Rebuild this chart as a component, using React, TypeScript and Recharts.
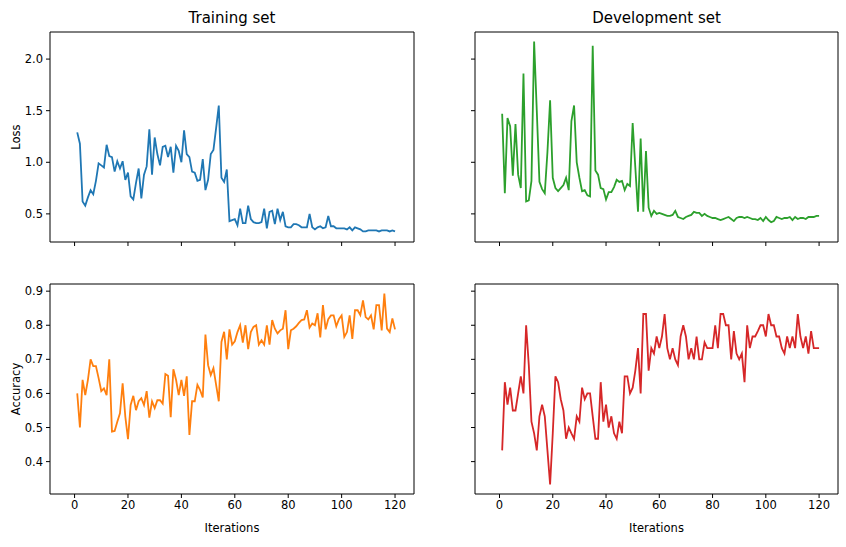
import React from 'react';
import { LineChart, Line, XAxis, YAxis, ReferenceLine } from 'recharts';

const iterations = Array.from({ length: 120 }, (_, i) => i + 1);

const trainLoss = [
  1.29, 1.18, 0.62, 0.58, 0.66, 0.73, 0.69, 0.82, 0.99, 0.97,
  0.95, 1.17, 1.06, 1.05, 0.91, 1.01, 0.94, 1.01, 0.83, 0.9,
  0.67, 0.64, 0.8, 0.94, 0.65, 0.88, 0.96, 1.32, 0.88, 1.24,
  1.08, 0.97, 1.15, 1.16, 1.05, 1.15, 0.9, 1.16, 1.11, 1.0,
  1.31, 1.08, 1.05, 0.91, 0.9, 0.82, 0.83, 1.03, 0.73, 0.83,
  1.08, 1.12, 1.33, 1.55, 0.85, 0.81, 0.93, 0.43, 0.44, 0.45,
  0.39, 0.55, 0.41, 0.41, 0.58, 0.45, 0.42, 0.41, 0.41, 0.42,
  0.55, 0.36, 0.52, 0.53, 0.4, 0.55, 0.44, 0.52, 0.38, 0.37,
  0.37, 0.4, 0.4, 0.39, 0.37, 0.37, 0.37, 0.5, 0.37, 0.35,
  0.37, 0.38, 0.36, 0.37, 0.48, 0.38, 0.38, 0.36, 0.36, 0.36,
  0.36, 0.35, 0.37, 0.34, 0.37, 0.36, 0.35, 0.33, 0.33, 0.34,
  0.34, 0.34, 0.34, 0.33, 0.34, 0.34, 0.34, 0.33, 0.34, 0.33,
];

const devLoss = [
  1.47, 0.7, 1.43, 1.35, 0.87, 1.37, 0.88, 0.75, 1.86, 0.62,
  0.63, 0.82, 2.17, 1.5, 0.81, 0.74, 0.7, 1.1, 1.6, 0.85,
  0.75, 0.72, 0.75, 0.78, 0.85, 0.73, 1.4, 1.55, 1.0, 0.85,
  0.72, 0.73, 0.68, 0.67, 2.13, 0.92, 0.88, 0.75, 0.74, 0.64,
  0.71, 0.71, 0.76, 0.83, 0.81, 0.82, 0.73, 0.79, 0.77, 1.38,
  0.95, 0.52, 1.23, 0.52, 1.11, 0.56, 0.48, 0.53, 0.5, 0.51,
  0.5, 0.49, 0.48, 0.48, 0.49, 0.53, 0.47, 0.46, 0.45, 0.47,
  0.48, 0.49, 0.52, 0.51, 0.51, 0.48, 0.5, 0.48, 0.47, 0.46,
  0.46, 0.45, 0.44, 0.45, 0.46, 0.47, 0.45, 0.43, 0.46, 0.47,
  0.47, 0.46, 0.47, 0.46, 0.45, 0.45, 0.44, 0.46, 0.43, 0.47,
  0.44, 0.42, 0.43, 0.47, 0.46, 0.45, 0.46, 0.46, 0.47, 0.44,
  0.47, 0.45, 0.46, 0.46, 0.45, 0.47, 0.47, 0.47, 0.48, 0.48,
];

const trainAcc = [
  0.6, 0.5, 0.64, 0.595, 0.64, 0.7, 0.68, 0.68, 0.645, 0.607,
  0.615, 0.595, 0.7, 0.488, 0.49, 0.517, 0.542, 0.63, 0.532, 0.466,
  0.566, 0.593, 0.551, 0.577, 0.586, 0.566, 0.607, 0.529, 0.577, 0.557,
  0.58, 0.58, 0.57, 0.657, 0.652, 0.53, 0.671, 0.64, 0.595, 0.64,
  0.593, 0.65, 0.478, 0.577, 0.577, 0.625, 0.61, 0.588, 0.773, 0.683,
  0.654, 0.674, 0.625, 0.577, 0.751, 0.781, 0.7, 0.788, 0.743, 0.753,
  0.78, 0.8, 0.749, 0.8, 0.73, 0.78, 0.795, 0.8, 0.743, 0.756,
  0.743, 0.8, 0.743, 0.815, 0.79, 0.776, 0.785, 0.79, 0.844, 0.73,
  0.785, 0.79, 0.797, 0.807, 0.815, 0.817, 0.844, 0.793, 0.805, 0.8,
  0.835, 0.764, 0.859, 0.788, 0.818, 0.829, 0.829, 0.797, 0.818, 0.829,
  0.766, 0.78, 0.829, 0.76, 0.844, 0.844, 0.83, 0.873, 0.824, 0.817,
  0.829, 0.788, 0.859, 0.859, 0.785, 0.893, 0.79, 0.78, 0.82, 0.788,
];

const devAcc = [
  0.433, 0.633, 0.567, 0.617, 0.55, 0.55, 0.6, 0.65, 0.6, 0.8,
  0.683, 0.517, 0.483, 0.433, 0.533, 0.567, 0.533, 0.433, 0.333, 0.483,
  0.65, 0.633, 0.583, 0.55, 0.467, 0.5, 0.483, 0.467, 0.533, 0.517,
  0.617, 0.583, 0.6, 0.6, 0.533, 0.467, 0.467, 0.633, 0.517, 0.567,
  0.5, 0.533, 0.483, 0.467, 0.517, 0.483, 0.65, 0.65, 0.6, 0.617,
  0.667, 0.733, 0.6, 0.833, 0.833, 0.667, 0.733, 0.717, 0.767, 0.733,
  0.767, 0.833, 0.733, 0.7, 0.733, 0.7, 0.683, 0.767, 0.8, 0.767,
  0.7, 0.733, 0.7, 0.767, 0.7, 0.7, 0.75, 0.733, 0.733, 0.733,
  0.8, 0.733, 0.833, 0.833, 0.8, 0.8, 0.7, 0.783, 0.717, 0.7,
  0.717, 0.633, 0.8, 0.733, 0.767, 0.767, 0.783, 0.8, 0.8, 0.767,
  0.833, 0.8, 0.8, 0.767, 0.767, 0.733, 0.717, 0.767, 0.733, 0.767,
  0.733, 0.833, 0.767, 0.733, 0.767, 0.717, 0.783, 0.733, 0.733, 0.733,
];

const xTicks = [0, 20, 40, 60, 80, 100, 120];
const lossTicks = [0.5, 1.0, 1.5, 2.0];
const accTicks = [0.4, 0.5, 0.6, 0.7, 0.8, 0.9];

const rows = iterations.map((x, i) => ({
  x,
  trainLoss: trainLoss[i],
  devLoss: devLoss[i],
  trainAcc: trainAcc[i],
  devAcc: devAcc[i],
}));

const xDomain: [number, number] = [-9.2, 127.1];
const lossDomain: [number, number] = [0.2275, 2.2625];
const accDomain: [number, number] = [0.305, 0.921];

const tickStyle = { fill: '#000', fontSize: 11.5 };

type PanelProps = {
  left: number;
  top: number;
  width: number;
  height: number;
  margin: { top: number; right: number; bottom: number; left: number };
  xAxisHeight: number;
  dataKey: string;
  color: string;
  yDomain: [number, number];
  yTicks: number[];
  showX: boolean;
  showY: boolean;
};

const Panel = (p: PanelProps) => (
  <div style={{ position: 'absolute', left: p.left, top: p.top }}>
    <LineChart width={p.width} height={p.height} data={rows} margin={p.margin}>
      <XAxis
        type="number"
        dataKey="x"
        domain={xDomain}
        ticks={xTicks}
        interval={0}
        allowDataOverflow
        height={p.xAxisHeight}
        stroke="#000"
        tickSize={4}
        tickMargin={3}
        tick={tickStyle}
        tickFormatter={p.showX ? (v: number) => String(v) : () => ''}
      />
      <YAxis
        type="number"
        domain={p.yDomain}
        ticks={p.yTicks}
        interval={0}
        allowDataOverflow
        width={50}
        stroke="#000"
        tickSize={4}
        tickMargin={3}
        tick={tickStyle}
        tickFormatter={p.showY ? (v: number) => v.toFixed(1) : () => ''}
      />
      <ReferenceLine y={p.yDomain[1]} stroke="#000" />
      <ReferenceLine x={xDomain[1]} stroke="#000" />
      <Line
        type="linear"
        dataKey={p.dataKey}
        stroke={p.color}
        strokeWidth={1.8}
        dot={false}
        isAnimationActive={false}
      />
    </LineChart>
  </div>
);

const text = (extra: React.CSSProperties): React.CSSProperties => ({
  position: 'absolute',
  textAlign: 'center',
  whiteSpace: 'nowrap',
  ...extra,
});

export default function App() {
  return (
    <div
      style={{
        position: 'absolute',
        left: 0,
        top: 0,
        width: 846,
        height: 547,
        background: '#fff',
        fontFamily: '"DejaVu Sans", sans-serif',
        color: '#000',
        overflow: 'hidden',
      }}
    >
      <div style={text({ left: 50, top: 9, width: 364, fontSize: 15 })}>Training set</div>
      <div style={text({ left: 475, top: 9, width: 363, fontSize: 15 })}>Development set</div>

      <Panel left={0} top={0} width={440} height={265}
        margin={{ top: 32, right: 26, bottom: 0, left: 0 }} xAxisHeight={23}
        dataKey="trainLoss" color="#1f77b4" yDomain={lossDomain} yTicks={lossTicks}
        showX={false} showY />
      <Panel left={425} top={0} width={421} height={265}
        margin={{ top: 32, right: 8, bottom: 0, left: 0 }} xAxisHeight={23}
        dataKey="devLoss" color="#2ca02c" yDomain={lossDomain} yTicks={lossTicks}
        showX={false} showY={false} />
      <Panel left={0} top={270} width={440} height={250}
        margin={{ top: 14, right: 26, bottom: 0, left: 0 }} xAxisHeight={26}
        dataKey="trainAcc" color="#ff7f0e" yDomain={accDomain} yTicks={accTicks}
        showX showY />
      <Panel left={425} top={270} width={421} height={250}
        margin={{ top: 14, right: 8, bottom: 0, left: 0 }} xAxisHeight={26}
        dataKey="devAcc" color="#d62728" yDomain={accDomain} yTicks={accTicks}
        showX showY={false} />

      <div style={text({ left: 50, top: 521, width: 364, fontSize: 11.5 })}>Iterations</div>
      <div style={text({ left: 475, top: 521, width: 363, fontSize: 11.5 })}>Iterations</div>

      <div style={text({ left: -24, top: 130, width: 80, fontSize: 11.5, transform: 'rotate(-90deg)' })}>Loss</div>
      <div style={text({ left: -24, top: 382, width: 80, fontSize: 11.5, transform: 'rotate(-90deg)' })}>Accuracy</div>
    </div>
  );
}
